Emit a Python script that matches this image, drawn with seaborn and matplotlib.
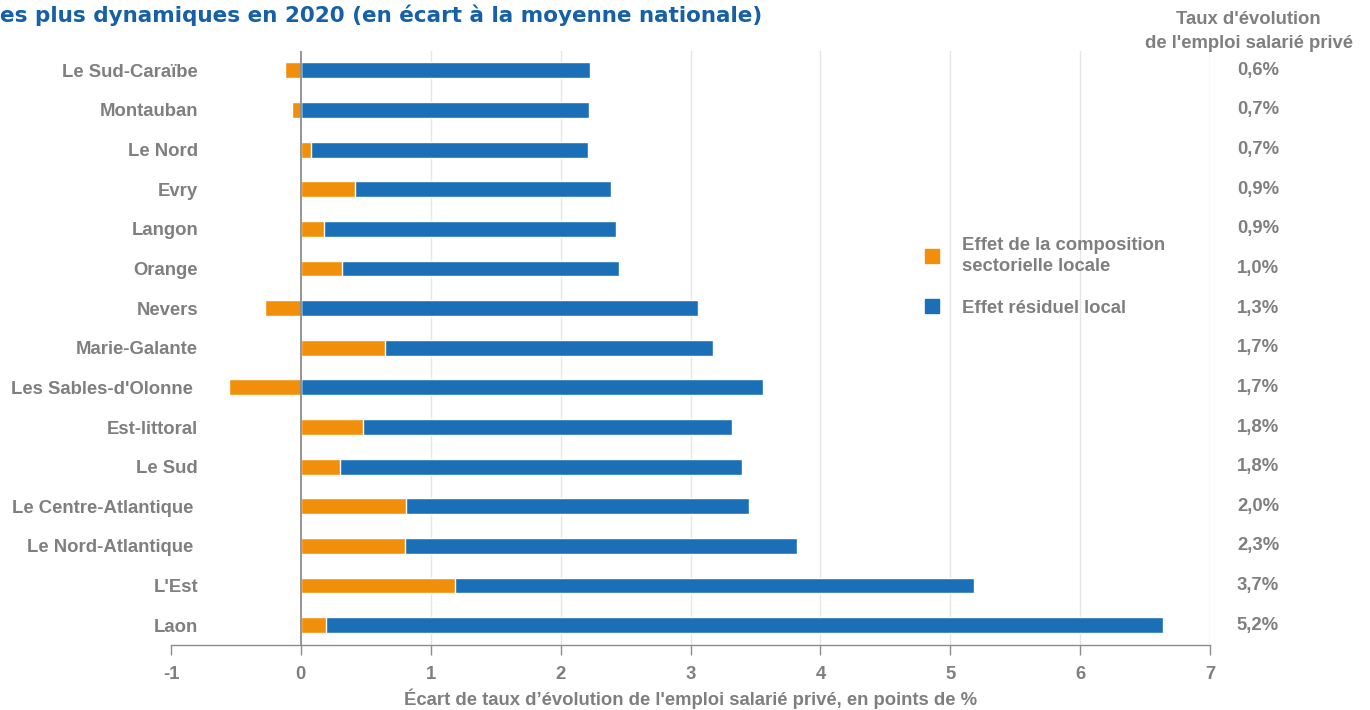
import numpy as np
import pandas as pd
import seaborn as sns
import matplotlib.pyplot as plt
import matplotlib.transforms as mtransforms
from matplotlib.patches import Patch

zones = ["Le Sud-Caraïbe", "Montauban", "Le Nord", "Evry", "Langon", "Orange",
         "Nevers", "Marie-Galante", "Les Sables-d'Olonne ", "Est-littoral",
         "Le Sud", "Le Centre-Atlantique ", "Le Nord-Atlantique ", "L'Est", "Laon"]
# effet de la composition sectorielle locale
effet_sect = [-0.12, -0.07, 0.08, 0.42, 0.18, 0.32, -0.28, 0.65, -0.55, 0.48,
              0.30, 0.81, 0.80, 1.19, 0.19]
# effet résiduel local
effet_resid = [2.23, 2.22, 2.13, 1.97, 2.25, 2.13, 3.06, 2.52, 3.56, 2.84,
               3.10, 2.64, 3.02, 3.99, 6.45]
taux = ["0,6%", "0,7%", "0,7%", "0,9%", "0,9%", "1,0%", "1,3%", "1,7%", "1,7%",
        "1,8%", "1,8%", "2,0%", "2,3%", "3,7%", "5,2%"]

ORANGE = "#F18F0B"
BLUE = "#1B6FB6"
GREY = "#7F7F7F"

df = pd.DataFrame({"zone": zones, "sect": effet_sect, "resid": effet_resid})
# blue bar is stacked after the positive part of the orange one
df["blue_end"] = df["sect"].clip(lower=0) + df["resid"]

sns.set_theme(style="white")
plt.rcParams["font.family"] = ["Liberation Sans", "DejaVu Sans"]
plt.rcParams["font.weight"] = "bold"

fig = plt.figure(figsize=(13.7, 7.1), dpi=100)
ax = fig.add_axes([171 / 1370, 1 - 645 / 710, (1210 - 171) / 1370, (645 - 50.5) / 710])

sns.barplot(data=df, x="blue_end", y="zone", color=BLUE, width=0.4,
            saturation=1, ax=ax, orient="h")
sns.barplot(data=df, x="sect", y="zone", color=ORANGE, width=0.4,
            saturation=1, ax=ax, orient="h")

ax.set_xlim(-1, 7)
ax.set_ylim(14.5, -0.5)
ax.set_xticks(range(-1, 8))
ax.set_xticklabels([str(v) for v in range(-1, 8)], fontsize=13.3, color=GREY,
                   fontweight="bold")
ax.tick_params(axis="x", direction="out", length=7, width=1, color="#8C8C8C",
               pad=8, bottom=True)
ax.tick_params(axis="y", length=0, pad=-19.5)
for lab in ax.get_yticklabels():
    lab.set_fontsize(13.3)
    lab.set_color(GREY)
    lab.set_fontweight("bold")
ax.set_ylabel("")
ax.set_xlabel("Écart de taux d’évolution de l'emploi salarié privé, en points de %",
              fontsize=13.3, color=GREY, fontweight="bold", labelpad=4)

for v in range(1, 8):
    ax.axvline(v, color="#E6E6E6", lw=1, zorder=0)
ax.axvline(0, color="#8C8C8C", lw=1.3, zorder=3)

for s in ["top", "right", "left"]:
    ax.spines[s].set_visible(False)
ax.spines["bottom"].set_color("#8C8C8C")
ax.spines["bottom"].set_linewidth(1)

# right column : taux d'évolution
trans = mtransforms.blended_transform_factory(fig.transFigure, ax.transData)
for i, t in enumerate(taux):
    ax.text(1258 / 1370, i, t, transform=trans, ha="center", va="center",
            fontsize=13.3, color=GREY, fontweight="bold")
fig.text(1248 / 1370, 1 - 20 / 710, "Taux d'évolution", ha="center", va="center",
         fontsize=13.3, color=GREY, fontweight="bold")
fig.text(1249 / 1370, 1 - 43 / 710, "de l'emploi salarié privé", ha="center",
         va="center", fontsize=13.3, color=GREY, fontweight="bold")

handles = [Patch(color=ORANGE), Patch(color=BLUE)]
leg = fig.legend(handles, ["Effet de la composition\nsectorielle locale",
                           "Effet résiduel local"],
                 loc="upper left", bbox_to_anchor=(908 / 1370, 1 - 220 / 710),
                 frameon=False, handlelength=0.8, handleheight=0.8,
                 handletextpad=1.2, labelspacing=1.3,
                 prop={"size": 13.3, "weight": "bold"})
for t in leg.get_texts():
    t.set_color(GREY)
    t.set_linespacing(1.35)

fig.text(0, 1 - 15 / 710, "es plus dynamiques en 2020 (en écart à la moyenne nationale)",
         ha="left", va="center", fontsize=15.5, color="#1560A8", fontweight="bold",
         family=["DejaVu Sans"])

fig.savefig("out.png", dpi=100)
